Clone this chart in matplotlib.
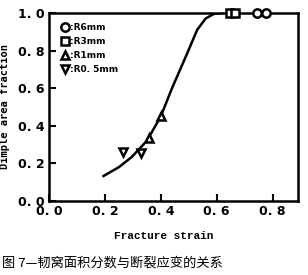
import matplotlib
matplotlib.use('Agg')
import matplotlib.pyplot as plt

# datos
curva_x = [0.195, 0.25, 0.296, 0.35, 0.40, 0.44, 0.49, 0.53, 0.56, 0.59, 0.62]
curva_y = [0.133, 0.18, 0.234, 0.32, 0.45, 0.60, 0.77, 0.91, 0.97, 0.995, 1.0]

r6_x = [0.743, 0.775]
r6_y = [1.0, 1.0]
r3_x = [0.646, 0.664]
r3_y = [1.0, 1.0]
r1_x = [0.357, 0.40]
r1_y = [0.335, 0.45]
r05_x = [0.264, 0.33]
r05_y = [0.26, 0.255]

xticks = [0.0, 0.2, 0.4, 0.6, 0.8]
yticks = [0.0, 0.2, 0.4, 0.6, 0.8, 1.0]

fig = plt.figure(figsize=(3.08, 2.75), dpi=100)
ax = fig.add_axes([0.159, 0.269, 0.808, 0.684])

ax.plot(curva_x, curva_y, color='black', lw=1.8, zorder=2)

estilo = dict(linestyle='none', mfc='white', mec='black', mew=1.8, ms=6, clip_on=False, zorder=3)
ax.plot(r6_x, r6_y, marker='o', label=':R6mm', **estilo)
ax.plot(r3_x, r3_y, marker='s', label=':R3mm', **estilo)
ax.plot(r1_x, r1_y, marker='^', label=':R1mm', **estilo)
ax.plot(r05_x, r05_y, marker='v', label=':R0. 5mm', **estilo)

ax.set_xlim(0, 0.89)
ax.set_ylim(0, 1.0)
ax.set_xticks(xticks)
ax.set_yticks(yticks)
ax.set_xticklabels(['0. 0', '0. 2', '0. 4', '0. 6', '0. 8'])
ax.set_yticklabels(['0. 0', '0. 2', '0. 4', '0. 6', '0. 8', '1. 0'])
ax.tick_params(direction='in', length=5, width=1.5, labelsize=9, pad=3)
for lab in ax.get_xticklabels() + ax.get_yticklabels():
    lab.set_fontweight('bold')
for s in ax.spines.values():
    s.set_linewidth(1.8)

ax.set_ylabel('Dimple area fraction', family='DejaVu Sans Mono', fontweight='bold', fontsize=7.5)
ax.yaxis.set_label_coords(-0.155, 0.5)
ax.set_xlabel('Fracture strain', family='Liberation Mono', fontweight='bold', fontsize=8)
ax.xaxis.set_label_coords(0.46, -0.16)

leg = ax.legend(loc='upper left', frameon=False, handletextpad=0.1, handlelength=1.0,
                bbox_to_anchor=(0.02, 0.98), borderaxespad=0.3, labelspacing=0.55,
                markerscale=1.0, prop={'weight': 'bold', 'size': 6.5})

fig.text(0.008, 0.03, '图 7—韧窝面积分数与断裂应变的关系', fontsize=9.5,
         family=['Noto Sans CJK SC', 'DejaVu Sans'])

fig.savefig('out.png', dpi=100)
